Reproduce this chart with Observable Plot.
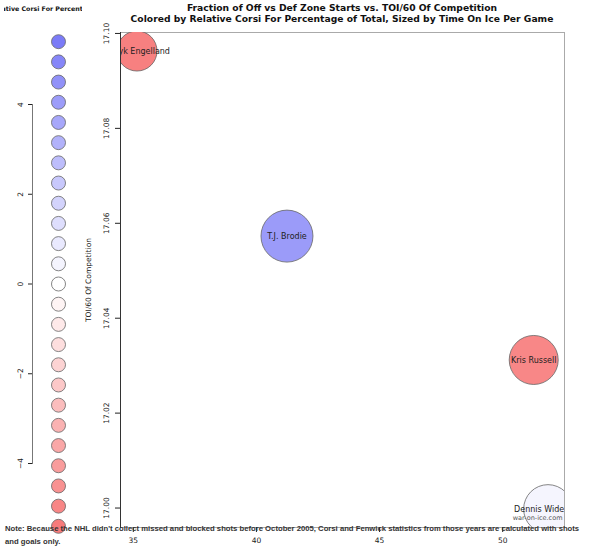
<!DOCTYPE html>
<html>
<head>
<meta charset="utf-8">
<script src="https://cdn.jsdelivr.net/npm/d3@7"></script>
<script src="https://cdn.jsdelivr.net/npm/@observablehq/plot@0.6"></script>
<style>
  body { margin: 0; background: #fff; }
  #wrap { position: relative; width: 600px; height: 553px; background: #fff; overflow: hidden; }
  #main { position: absolute; top: 0; left: 0; }
  #legendClip { position: absolute; left: 0; top: 0; width: 85px; height: 553px; }
  .title { position: absolute; left: 120px; width: 444px; text-align: center; font: bold 9.2px "DejaVu Sans"; line-height: 11px; color: #111; top: 2px; white-space: nowrap; }
  #legTitle { position: absolute; left: 4px; top: 5px; width: 78px; height: 10px; overflow: hidden; }
  #legTitle div { position: absolute; left: -61px; width: 200px; text-align: center; font: bold 6.3px "DejaVu Sans"; line-height: 8px; color: #111; white-space: nowrap; }
  #note { position: absolute; left: 5px; top: 521.5px; font: bold 7.7px "Liberation Sans"; line-height: 13.4px; color: #333; white-space: nowrap; }
</style>
</head>
<body>
<div id="wrap">
  <div id="main"></div>
  <div id="legendClip"></div>
  <div class="title">Fraction of Off vs Def Zone Starts vs. TOI/60 Of Competition<br>Colored by Relative Corsi For Percentage of Total, Sized by Time On Ice Per Game</div>
  <div id="legTitle"><div>Relative Corsi For Percentage</div></div>
  <div id="note">Note: Because the NHL didn't collect missed and blocked shots before October 2005, Corsi and Fenwick statistics from those years are calculated with shots<br>and goals only.</div>
</div>
<script>
// ---- data ----
const players = ["Deryk Engelland", "T.J. Brodie", "Kris Russell", "Dennis Wideman"];
const offZoneStartPct = [35.15, 41.24, 51.26, 51.84];
const toi60Competition = [17.0963, 17.0573, 17.0312, 16.9998];
const relCorsiFor = [-5.2, 4.1, -4.9, 0.4];
const toiPerGame = [14.4, 24.3, 21.6, 21.3];

const xTicks = [35, 40, 45, 50];
const yTicks = [17.00, 17.02, 17.04, 17.06, 17.08, 17.10];
const legendValues = [5.4, 4.95, 4.5, 4.05, 3.6, 3.15, 2.7, 2.25, 1.8, 1.35, 0.9, 0.45, 0,
  -0.45, -0.9, -1.35, -1.8, -2.25, -2.7, -3.15, -3.6, -4.05, -4.5, -4.95, -5.4];
const legendTicks = [-4, -2, 0, 2, 4];

const data = players.map((name, i) => ({
  name, ozs: offZoneStartPct[i], comp: toi60Competition[i], rel: relCorsiFor[i], toi: toiPerGame[i]
}));

const colorScale = {
  type: "linear",
  domain: [-5.4, 0, 5.4],
  range: ["#f77b7b", "#ffffff", "#7b7bf7"],
  interpolate: "rgb"
};

const main = Plot.plot({
  width: 600, height: 553,
  marginLeft: 120, marginRight: 36, marginTop: 32, marginBottom: 26,
  style: { fontFamily: "DejaVu Sans", fontSize: "7.5px", background: "white", color: "#222" },
  x: { domain: [34.48, 52.51] },
  y: { domain: [16.9959, 17.1002] },
  color: colorScale,
  r: { domain: [0, 24.3], range: [0, 26] },
  marks: [
    Plot.frame({ stroke: "#aaa" }),
    Plot.dot(data, { x: "ozs", y: "comp", r: "toi", fill: "rel", stroke: "#666", strokeWidth: 0.8, clip: true }),
    Plot.text(data, { x: "ozs", y: "comp", text: "name", fontSize: 8, fill: "#222", clip: true }),
    Plot.frame({ anchor: "left", stroke: "#333" }),
    Plot.axisY({ ticks: yTicks, tickFormat: ".2f", tickSize: 5, tickPadding: 7, tickRotate: -90,
      label: "TOI/60 Of Competition", labelAnchor: "center", labelOffset: 35, labelArrow: "none" }),
    Plot.axisX({ ticks: xTicks, tickSize: 5, tickPadding: 5, label: null }),
    Plot.text(["war-on-ice.com"], { frameAnchor: "bottom-right", dx: -2, dy: -8, fontSize: 6.5, fill: "#555" })
  ]
});
document.getElementById("main").appendChild(main);

const legend = Plot.plot({
  width: 85, height: 553,
  marginLeft: 32, marginRight: 1, marginTop: 104, marginBottom: 90,
  style: { fontFamily: "DejaVu Sans", fontSize: "7.5px", background: "transparent", color: "#222", overflow: "visible" },
  y: { domain: [-4, 4] },
  color: colorScale,
  marks: [
    Plot.frame({ anchor: "left", stroke: "#777" }),
    Plot.axisY({ ticks: legendTicks, tickSize: 4, tickPadding: 6, tickRotate: -90, label: null }),
    Plot.dot(legendValues, { y: d => d, fill: d => d, r: 7, stroke: "#666", strokeWidth: 0.8, frameAnchor: "middle" })
  ]
});
document.getElementById("legendClip").appendChild(legend);
</script>
</body>
</html>
